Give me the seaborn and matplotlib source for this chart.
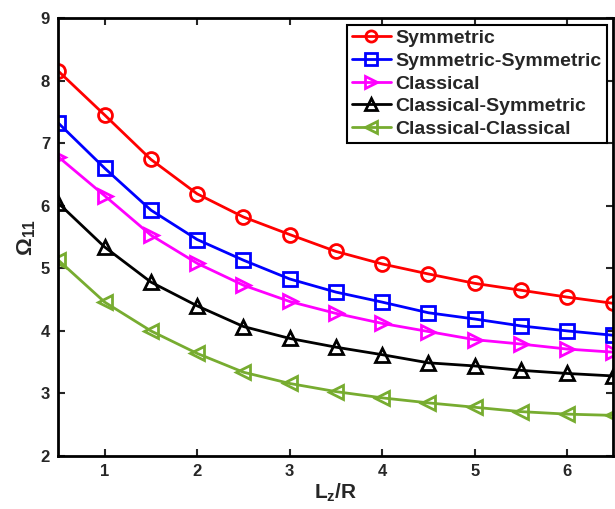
import matplotlib
matplotlib.use("Agg")
import matplotlib.pyplot as plt
import seaborn as sns
import pandas as pd

x_vals = [0.5, 1.0, 1.5, 2.0, 2.5, 3.0, 3.5, 4.0, 4.5, 5.0, 5.5, 6.0, 6.5]
symmetric = [8.15, 7.45, 6.74, 6.19, 5.82, 5.54, 5.27, 5.07, 4.91, 4.76, 4.65, 4.54, 4.44]
symmetric_symmetric = [7.32, 6.60, 5.93, 5.46, 5.13, 4.83, 4.62, 4.46, 4.29, 4.19, 4.08, 4.00, 3.93]
classical = [6.78, 6.16, 5.53, 5.08, 4.73, 4.47, 4.28, 4.12, 3.99, 3.86, 3.79, 3.71, 3.66]
classical_symmetric = [6.04, 5.34, 4.78, 4.40, 4.07, 3.88, 3.74, 3.62, 3.49, 3.44, 3.37, 3.32, 3.28]
classical_classical = [5.13, 4.46, 4.00, 3.64, 3.34, 3.16, 3.03, 2.93, 2.85, 2.78, 2.71, 2.67, 2.65]

series_names = ["Symmetric", "Symmetric-Symmetric", "Classical",
                "Classical-Symmetric", "Classical-Classical"]
series_values = [symmetric, symmetric_symmetric, classical,
                 classical_symmetric, classical_classical]
colors = ["#ff0000", "#0000ff", "#ff00ff", "#000000", "#77ac30"]
markers = ["o", "s", ">", "^", "<"]

x_ticks = [1, 2, 3, 4, 5, 6]
y_ticks = [2, 3, 4, 5, 6, 7, 8, 9]

sns.set_style("ticks")
plt.rcParams["font.family"] = ["Liberation Sans", "DejaVu Sans"]
plt.rcParams["font.weight"] = "bold"
plt.rcParams["mathtext.fontset"] = "custom"
plt.rcParams["mathtext.rm"] = "Liberation Sans:bold"
plt.rcParams["mathtext.it"] = "Liberation Sans:bold"
plt.rcParams["mathtext.bf"] = "Liberation Sans:bold"

fig = plt.figure(figsize=(6.15, 5.09), dpi=100)
ax = fig.add_axes([0.095, 0.104, 0.9025, 0.8606])

for name, vals, c, m in zip(series_names, series_values, colors, markers):
    df = pd.DataFrame({"x": x_vals, "y": vals})
    sns.lineplot(data=df, x="x", y="y", ax=ax, color=c, marker=m,
                 markersize=10, mfc="none", mec=c, mew=2.0,
                 linewidth=2.0, label=name)

ax.set_xlim(0.5, 6.5)
ax.set_ylim(2, 9)
ax.set_xticks(x_ticks)
ax.set_yticks(y_ticks)
ax.tick_params(direction="in", top=True, right=True, length=5, width=1.5,
               labelsize=12, pad=6)
for lbl in ax.get_xticklabels() + ax.get_yticklabels():
    lbl.set_fontweight("bold")
for sp in ax.spines.values():
    sp.set_visible(True)
    sp.set_color("black")
    sp.set_linewidth(2.0)

ax.set_xlabel(r"$\mathregular{L_z/R}$", fontsize=15, fontweight="bold", labelpad=2)
ax.set_ylabel(r"$\mathregular{\Omega_{11}}$", fontsize=16, fontweight="bold", labelpad=2)

leg = ax.legend(loc="upper right", fancybox=False, framealpha=1,
                edgecolor="black", handlelength=2.0, markerscale=0.8,
                handletextpad=0.25, labelspacing=0.26, borderaxespad=0.35,
                borderpad=0.25, prop={"weight": "bold", "size": 14})
leg.get_frame().set_linewidth(1.5)

fig.savefig("out.png", dpi=100)
